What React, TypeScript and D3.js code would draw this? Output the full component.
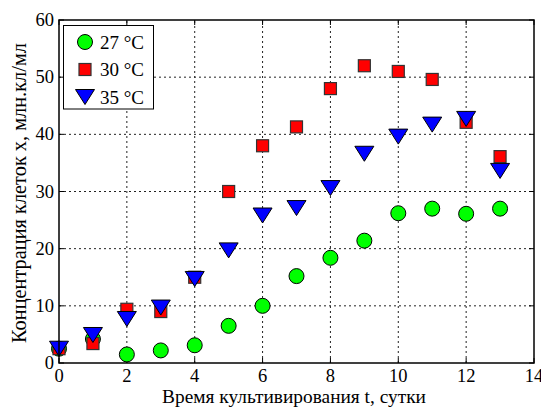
import React, { useEffect, useRef } from "react";
import * as d3 from "d3";

// Cell concentration over cultivation time at three temperatures
const days = [0, 1, 2, 3, 4, 5, 6, 7, 8, 9, 10, 11, 12, 13];
const conc27 = [2.5, 4.2, 1.5, 2.2, 3.1, 6.5, 10, 15.2, 18.4, 21.4, 26.2, 27.0, 26.1, 27.0];
const conc30 = [2.5, 3.4, 9.4, 9.0, 15.0, 30.0, 38.0, 41.3, 48.0, 52.0, 51.0, 49.6, 42.1, 36.1];
const conc35 = [2.5, 4.9, 7.7, 9.7, 14.7, 19.7, 25.8, 27.1, 30.6, 36.6, 39.6, 41.7, 42.7, 33.6];
const legendLabels = ["27 °C", "30 °C", "35 °C"];
const xTicks = [0, 2, 4, 6, 8, 10, 12, 14];
const yTicks = [0, 10, 20, 30, 40, 50, 60];
const xTitle = "Время культивирования t, сутки";
const yTitle = "Концентрация клеток x, млн.кл/мл";

const W = 541;
const H = 407;
const M = { left: 59, right: 7, top: 20, bottom: 44 };
const FONT = "Liberation Serif, Tinos, DejaVu Serif, serif";

type Shape = "circle" | "square" | "tri";

// scale a text's font size so that it spans the given width
function fitText(sel: any, width: number) {
  const node = sel.node() as SVGTextElement;
  const fs = parseFloat(sel.attr("font-size"));
  const len = node.getComputedTextLength();
  if (len > 0) sel.attr("font-size", (fs * width) / len);
}

export default function App() {
  const ref = useRef<SVGSVGElement | null>(null);

  useEffect(() => {
    const svg = d3.select(ref.current);
    svg.selectAll("*").remove();

    const x = d3.scaleLinear().domain([0, 14]).range([M.left, W - M.right]);
    const y = d3.scaleLinear().domain([0, 60]).range([H - M.bottom, M.top]);
    const [x0, x1] = x.range();
    const [y0, y1] = y.range();

    svg.append("rect").attr("width", W).attr("height", H).attr("fill", "#fff");

    // dotted grid
    const grid = svg.append("g").attr("stroke", "#222").attr("stroke-width", 1).attr("stroke-dasharray", "2,3");
    xTicks.slice(1, -1).forEach((t) => {
      grid.append("line").attr("x1", x(t)).attr("x2", x(t)).attr("y1", y0).attr("y2", y1);
    });
    yTicks.slice(1, -1).forEach((t) => {
      grid.append("line").attr("x1", x0).attr("x2", x1).attr("y1", y(t)).attr("y2", y(t));
    });

    // inward ticks on all four sides
    const ticks = svg.append("g").attr("stroke", "#000").attr("stroke-width", 1);
    xTicks.forEach((t) => {
      ticks.append("line").attr("x1", x(t)).attr("x2", x(t)).attr("y1", y0).attr("y2", y0 - 5);
      ticks.append("line").attr("x1", x(t)).attr("x2", x(t)).attr("y1", y1).attr("y2", y1 + 5);
    });
    yTicks.forEach((t) => {
      ticks.append("line").attr("x1", x0).attr("x2", x0 + 5).attr("y1", y(t)).attr("y2", y(t));
      ticks.append("line").attr("x1", x1).attr("x2", x1 - 5).attr("y1", y(t)).attr("y2", y(t));
    });

    // markers
    const drawMarker = (g: any, shape: Shape, cx: number, cy: number) => {
      if (shape === "circle") {
        g.append("circle").attr("cx", cx).attr("cy", cy).attr("r", 7.5)
          .attr("fill", "#00ff00").attr("stroke", "#000").attr("stroke-width", 1);
      } else if (shape === "square") {
        g.append("rect").attr("x", cx - 6).attr("y", cy - 6).attr("width", 12).attr("height", 12)
          .attr("fill", "#ff0000").attr("stroke", "#333").attr("stroke-width", 1.2);
      } else {
        const pts = [[cx - 9.5, cy - 7.5], [cx + 9.5, cy - 7.5], [cx, cy + 7.5]];
        g.append("path").attr("d", d3.line()(pts as [number, number][]) + "Z")
          .attr("fill", "#0000ff").attr("stroke", "#000").attr("stroke-width", 1);
      }
    };

    const series: { shape: Shape; values: number[] }[] = [
      { shape: "circle", values: conc27 },
      { shape: "square", values: conc30 },
      { shape: "tri", values: conc35 },
    ];
    const marks = svg.append("g");
    series.forEach((s) => {
      days.forEach((d, i) => drawMarker(marks, s.shape, x(d), y(s.values[i])));
    });

    // axes frame
    svg.append("rect").attr("x", x0).attr("y", y1).attr("width", x1 - x0).attr("height", y0 - y1)
      .attr("fill", "none").attr("stroke", "#000").attr("stroke-width", 1.5);

    // tick labels
    const lab = svg.append("g").style("font-family", FONT).attr("font-size", 18.5).attr("fill", "#000");
    xTicks.forEach((t) => {
      lab.append("text").attr("x", x(t)).attr("y", y0 + 19).attr("text-anchor", "middle").text(t);
    });
    yTicks.forEach((t) => {
      lab.append("text").attr("x", x0 - 5).attr("y", y(t) + 6).attr("text-anchor", "end").text(t);
    });

    // axis titles
    const xt = svg.append("text").attr("x", 294).attr("y", 403).attr("text-anchor", "middle")
      .style("font-family", FONT).attr("font-size", 18).text(xTitle);
    fitText(xt, 264);
    const yt = svg.append("text").attr("transform", `translate(26,193) rotate(-90)`)
      .attr("text-anchor", "middle").style("font-family", FONT).attr("font-size", 18).text(yTitle);
    fitText(yt, 300);

    // legend
    const lg = svg.append("g");
    lg.append("rect").attr("x", 63.5).attr("y", 25.5).attr("width", 90).attr("height", 83.5)
      .attr("fill", "#fff").attr("stroke", "#000").attr("stroke-width", 1);
    series.forEach((s, i) => {
      const cy = 42 + i * 27.5;
      drawMarker(lg, s.shape, 85, cy);
      lg.append("text").attr("x", 100).attr("y", cy + 6.5).style("font-family", FONT)
        .attr("font-size", 19).text(legendLabels[i]);
    });
  }, []);

  return (
    <svg ref={ref} width={W} height={H} style={{ display: "block", position: "absolute", left: 0, top: 0 }} />
  );
}
